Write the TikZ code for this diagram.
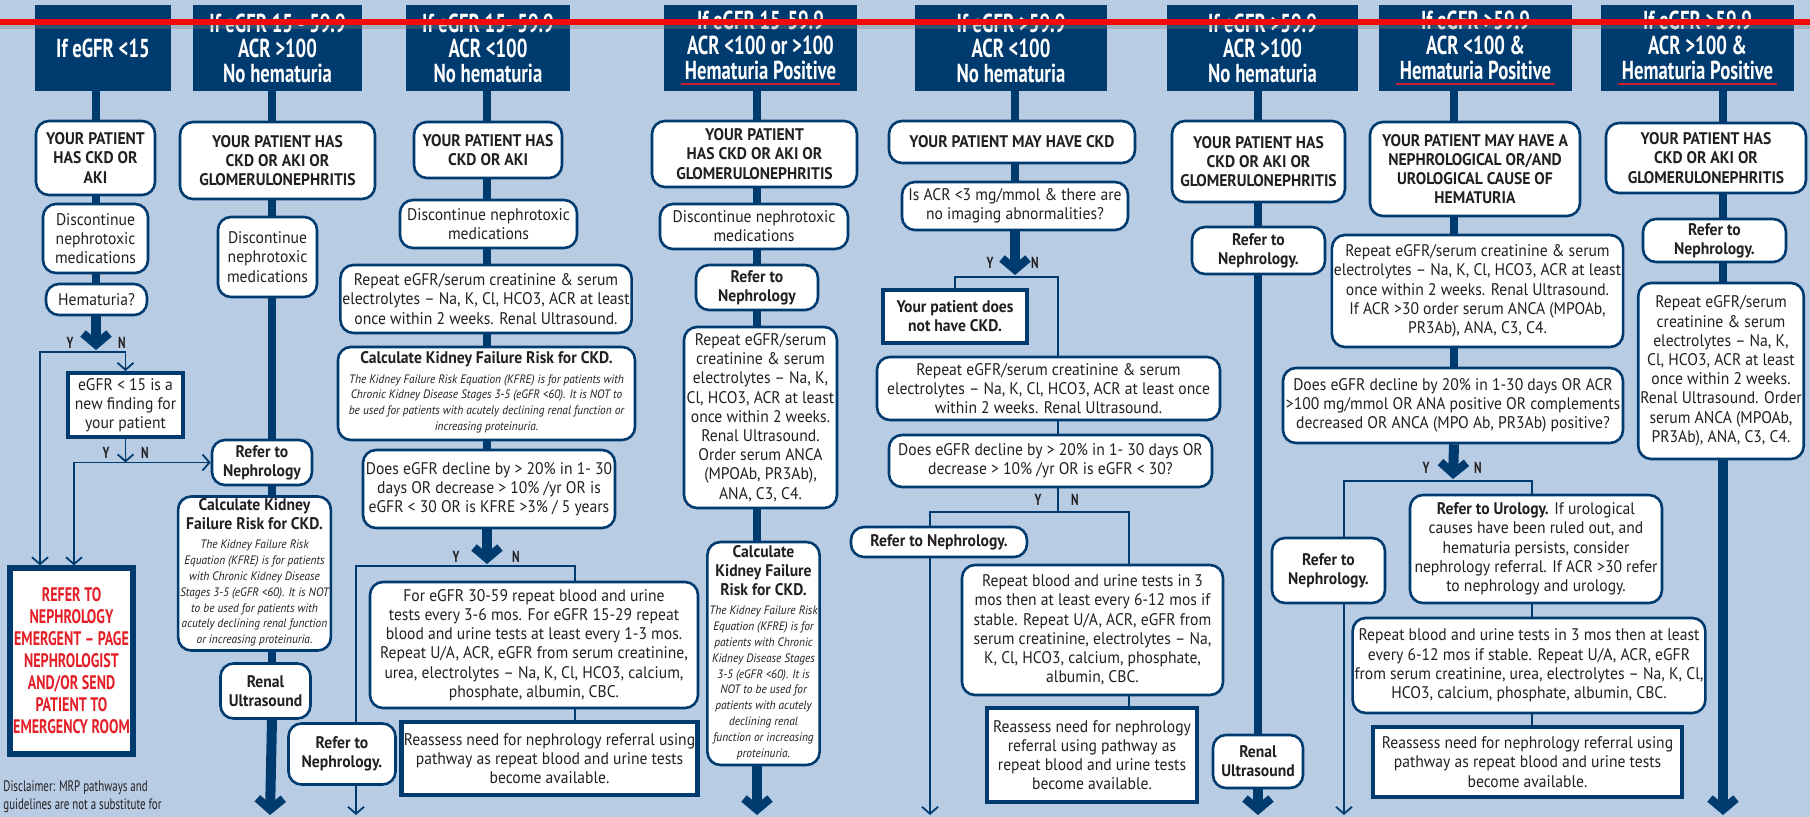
\documentclass[tikz,border=0pt]{standalone}
\usepackage{fontspec}
\setmainfont[FakeStretch=0.93]{PT Sans}
\newfontfamily\condfont[FakeStretch=0.72,Ligatures=TeX]{PT Sans}
\usetikzlibrary{arrows.meta}

\definecolor{navy}{RGB}{0,59,112}
\definecolor{bg}{RGB}{184,204,228}
\definecolor{alert}{RGB}{228,30,38}
\definecolor{ulred}{RGB}{200,30,45}
\definecolor{txt}{RGB}{35,31,32}
\definecolor{topred}{RGB}{240,10,10}

\newcommand\bodyfont{\fontsize{8.4}{9.6}\selectfont}
\newcommand\kfrefont{\fontsize{6.1}{7.9}\selectfont\itshape}
\newcommand\headfont{\condfont\bfseries\fontsize{13}{12.5}\selectfont}
\newcommand\alertfont{\condfont\bfseries\fontsize{9.8}{11}\selectfont}
\newcommand\ynfont{\condfont\bfseries\fontsize{8}{8}\selectfont}
\newcommand\notefont{\condfont\fontsize{7.6}{9}\selectfont}
% red rule under the hematuria headers
\newcommand\redul[1]{\setbox0\hbox{#1}\dimen0=\wd0\advance\dimen0 by 4pt
  \hbox{\kern-2pt\rlap{\color{ulred}\rule[-2.8pt]{\dimen0}{1.1pt}}\kern2pt\box0}}
% small italic KFRE note
\newcommand\kfre[1]{{\kfrefont\begin{tabular}[t]{@{}c@{}}#1\end{tabular}}}

\begin{document}
\begin{tikzpicture}[x=0.5pt,y=-0.5pt,
  head/.style={fill=navy,text=white,font=\headfont,align=center,inner sep=0pt,minimum height=43pt},
  box/.style={draw=navy,line width=1.3pt,fill=white,rounded corners=6.5pt,align=center,inner sep=1pt,text=txt,font=\bodyfont},
  boldbox/.style={box,font=\bodyfont\bfseries},
  sqbox/.style={box,rounded corners=0pt,line width=2.4pt},
  alertbox/.style={sqbox,line width=2.6pt,text=alert,font=\alertfont},
  stem/.style={navy,line width=4.3pt},
  link/.style={navy,line width=0.9pt},
  linkarrow/.style={link,-{Straight Barb[length=3.5pt,width=8pt]}},
  bigarrow/.style={navy,line width=5pt,-{Straight Barb[length=5.5pt,width=13pt,line width=4.2pt]}},
  yn/.style={font=\ynfont,text=txt,inner sep=0pt}]
\useasboundingbox (0,0) rectangle (1810,817);
\fill[bg] (0,0) rectangle (1810,817);

% column headers
\node[head,minimum width=68pt] (h1) at (103,48) {If eGFR <15};
\node[head,minimum width=84.5pt] (h2) at (277.5,48) {If eGFR 15 - 59.9\\ACR >100\\No hematuria};
\node[head,minimum width=82pt] (h3) at (488,48) {If eGFR 15- 59.9\\ACR <100\\No hematuria};
\node[head,minimum width=96.5pt] (h4) at (760.5,48) {If eGFR 15-59.9\\ACR <100 or >100\\\redul{Hematuria Positive}};
\node[head,minimum width=96pt] (h5) at (1011,48) {If eGFR >59.9\\ACR <100\\No hematuria};
\node[head,minimum width=95.5pt] (h6) at (1262.5,48) {If eGFR >59.9\\ACR >100\\No hematuria};
\node[head,minimum width=96.5pt] (h7) at (1475.5,48) {If eGFR >59.9\\ACR <100 \&\\\redul{Hematuria Positive}};
\node[head,minimum width=96.5pt] (h8) at (1697.5,48) {If eGFR >59.9\\ACR >100 \&\\\redul{Hematuria Positive}};

% stem lines of the columns
\coordinate (k1) at (96,0);
\coordinate (k2) at (272,0);
\coordinate (k3) at (487,0);
\coordinate (k4) at (757,0);
\coordinate (k5) at (1015,0);
\coordinate (k6) at (1258,0);
\coordinate (k7) at (1454,0);
\coordinate (k8) at (1723,0);

% eGFR < 15
\node[boldbox,minimum width=59.5pt,minimum height=37pt] (c1a) at (95.5,158) {YOUR PATIENT\\HAS CKD OR\\AKI};
\node[box,minimum width=52.5pt,minimum height=34.5pt] (c1b) at (95.5,238.5) {Discontinue\\nephrotoxic\\medications};
\node[box,minimum width=50.5pt,minimum height=15.5pt] (c1c) at (96.5,299.5) {Hematuria?};
\node[sqbox,line width=2pt,minimum width=57.5pt,minimum height=32pt] (c1d) at (125.5,405) {eGFR < 15 is a\\new finding for\\your patient};
\node[alertbox,minimum width=61.5pt,minimum height=93pt] (c1r) at (71.5,661) {REFER TO\\NEPHROLOGY\\EMERGENT -- PAGE\\NEPHROLOGIST\\AND/OR SEND\\PATIENT TO\\EMERGENCY ROOM};
\node[font=\notefont,text=txt,align=left,anchor=west,inner sep=0pt] (note) at (3,797) {Disclaimer: MRP pathways and\\guidelines are not a substitute for};

% eGFR 15-59.9, ACR >100
\node[boldbox,minimum width=97.5pt,minimum height=38.5pt] (c2a) at (277.5,160.5) {YOUR PATIENT HAS\\CKD OR AKI OR\\GLOMERULONEPHRITIS};
\node[box,minimum width=49.5pt,minimum height=40pt] (c2b) at (267.5,257) {Discontinue\\nephrotoxic\\medications};
\node[boldbox,minimum width=50pt,minimum height=22.5pt] (c2c) at (262,462.5) {Refer to\\Nephrology};
\node[box,minimum width=59pt,minimum height=76.5pt] (c2d) at (254.5,573.5) {\textbf{Calculate Kidney}\\\textbf{Failure Risk for CKD.}\\\kfre{The Kidney Failure Risk\\Equation (KFRE) is for patients\\with Chronic Kidney Disease\\Stages 3-5 (eGFR <60). It is NOT\\to be used for patients with\\acutely declining renal function\\or increasing proteinuria.}};
\node[boldbox,minimum width=45pt,minimum height=27.5pt] (c2e) at (265.5,691) {Renal\\Ultrasound};

% eGFR 15-59.9, ACR <100
\node[boldbox,minimum width=74pt,minimum height=28pt] (c3a) at (488,150) {YOUR PATIENT HAS\\CKD OR AKI};
\node[box,minimum width=88.5pt,minimum height=24pt] (c3b) at (488.5,224) {Discontinue nephrotoxic\\medications};
\node[box,minimum width=143pt,minimum height=34pt] (c3c) at (486,299) {Repeat eGFR/serum creatinine \& serum\\electrolytes -- Na, K, Cl, HCO3, ACR at least\\once within 2 weeks. Renal Ultrasound.};
\node[box,minimum width=148.5pt,minimum height=46.5pt] (c3d) at (486.5,393.5) {\textbf{Calculate Kidney Failure Risk for CKD.}\\\kfre{The Kidney Failure Risk Equation (KFRE) is for patients with\\Chronic Kidney Disease Stages 3-5 (eGFR <60). It is NOT to\\be used for patients with acutely declining renal function or\\increasing proteinuria.}};
\node[box,minimum width=126pt,minimum height=39pt] (c3e) at (489,489) {Does eGFR decline by > 20\% in 1- 30\\days OR decrease > 10\% /yr OR is\\eGFR < 30 OR is KFRE >3\% / 5 years};
\node[box,minimum width=164pt,minimum height=63pt] (c3f) at (534,645) {For eGFR 30-59 repeat blood and urine\\tests every 3-6 mos. For eGFR 15-29 repeat\\blood and urine tests at least every 1-3 mos.\\Repeat U/A, ACR, eGFR from serum creatinine,\\urea, electrolytes -- Na, K, Cl, HCO3, calcium,\\phosphate, albumin, CBC.};
\node[sqbox,minimum width=147.5pt,minimum height=36.5pt] (c3g) at (549.5,758.5) {Reassess need for nephrology referral using\\pathway as repeat blood and urine tests\\become available.};
\node[boldbox,minimum width=53.5pt,minimum height=30.5pt] (c3h) at (342,754) {Refer to\\Nephrology.};

% eGFR 15-59.9, hematuria
\node[boldbox,minimum width=102.5pt,minimum height=33pt] (c4a) at (754.5,154) {YOUR PATIENT\\HAS CKD OR AKI OR\\GLOMERULONEPHRITIS};
\node[box,minimum width=94pt,minimum height=22.5pt] (c4b) at (754,226.5) {Discontinue nephrotoxic\\medications};
\node[boldbox,minimum width=61pt,minimum height=22.5pt] (c4c) at (757,287.5) {Refer to\\Nephrology};
\node[box,minimum width=76.5pt,minimum height=90.5pt] (c4d) at (760.5,417.5) {Repeat eGFR/serum\\creatinine \& serum\\electrolytes -- Na, K,\\Cl, HCO3, ACR at least\\once within 2 weeks.\\Renal Ultrasound.\\Order serum ANCA\\(MPOAb, PR3Ab),\\ANA, C3, C4.};
\node[box,minimum width=55.5pt,minimum height=111.5pt] (c4e) at (763.5,653.5) {\textbf{Calculate}\\\textbf{Kidney Failure}\\\textbf{Risk for CKD.}\\\kfre{The Kidney Failure Risk\\Equation (KFRE) is for\\patients with Chronic\\Kidney Disease Stages\\3-5 (eGFR <60). It is\\NOT to be used for\\patients with acutely\\declining renal\\function or increasing\\proteinuria.}};

% eGFR >59.9, ACR <100
\node[boldbox,minimum width=123pt,minimum height=21pt] (c5a) at (1012,142) {YOUR PATIENT MAY HAVE CKD};
\node[box,minimum width=113pt,minimum height=24pt] (c5b) at (1015,206) {Is ACR <3 mg/mmol \& there are\\no imaging abnormalities?};
\node[sqbox,font=\bodyfont\bfseries,line width=2pt,minimum width=72pt,minimum height=26.5pt] (c5c) at (955,316.5) {Your patient does\\not have CKD.};
\node[box,minimum width=171.5pt,minimum height=31.5pt] (c5d) at (1048.5,388.5) {Repeat eGFR/serum creatinine \& serum\\electrolytes -- Na, K, Cl, HCO3, ACR at least once\\within 2 weeks. Renal Ultrasound.};
\node[box,minimum width=161.5pt,minimum height=26pt] (c5e) at (1050.5,461) {Does eGFR decline by > 20\% in 1- 30 days OR\\decrease > 10\% /yr OR is eGFR < 30?};
\node[boldbox,minimum width=88pt,minimum height=15pt] (c5f) at (939,542) {Refer to Nephrology.};
\node[box,minimum width=130.5pt,minimum height=65pt] (c5g) at (1092.5,630) {Repeat blood and urine tests in 3\\mos then at least every 6-12 mos if\\stable. Repeat U/A, ACR, eGFR from\\serum creatinine, electrolytes -- Na,\\K, Cl, HCO3, calcium, phosphate,\\albumin, CBC.};
\node[sqbox,minimum width=105pt,minimum height=47pt] (c5h) at (1092,755) {Reassess need for nephrology\\referral using pathway as\\repeat blood and urine tests\\become available.};

% eGFR >59.9, ACR >100
\node[boldbox,minimum width=86.5pt,minimum height=40.5pt] (c6a) at (1258.5,161.5) {YOUR PATIENT HAS\\CKD OR AKI OR\\GLOMERULONEPHRITIS};
\node[boldbox,minimum width=66.5pt,minimum height=23.5pt] (c6b) at (1258.5,250.5) {Refer to\\Nephrology.};
\node[boldbox,minimum width=45pt,minimum height=26.5pt] (c6c) at (1258,761.5) {Renal\\Ultrasound};

% eGFR >59.9, ACR <100, hematuria
\node[boldbox,minimum width=105pt,minimum height=47pt] (c7a) at (1475,169) {YOUR PATIENT MAY HAVE A\\NEPHROLOGICAL OR/AND\\UROLOGICAL CAUSE OF\\HEMATURIA};
\node[box,minimum width=140.5pt,minimum height=56pt] (c7b) at (1477.5,291) {Repeat eGFR/serum creatinine \& serum\\electrolytes -- Na, K, Cl, HCO3, ACR at least\\once within 2 weeks. Renal Ultrasound.\\If ACR >30 order serum ANCA (MPOAb,\\PR3Ab), ANA, C3, C4.};
\node[box,minimum width=170pt,minimum height=37.5pt] (c7c) at (1453,405.5) {Does eGFR decline by 20\% in 1-30 days OR ACR\\>100 mg/mmol OR ANA positive OR complements\\decreased OR ANCA (MPO Ab, PR3Ab) positive?};
\node[boldbox,minimum width=56.5pt,minimum height=32.5pt] (c7d) at (1328.5,570.5) {Refer to\\Nephrology.};
\node[box,minimum width=126pt,minimum height=54pt] (c7e) at (1536,549) {\textbf{Refer to Urology.} If urological\\causes have been ruled out, and\\hematuria persists, consider\\nephrology referral. If ACR >30 refer\\to nephrology and urology.};
\node[box,minimum width=175pt,minimum height=47.5pt] (c7f) at (1529,665.5) {Repeat blood and urine tests in 3 mos then at least\\every 6-12 mos if stable. Repeat U/A, ACR, eGFR\\from serum creatinine, urea, electrolytes -- Na, K, Cl,\\HCO3, calcium, phosphate, albumin, CBC.};
\node[sqbox,minimum width=154.5pt,minimum height=35pt] (c7g) at (1527.5,762) {Reassess need for nephrology referral using\\pathway as repeat blood and urine tests\\become available.};

% eGFR >59.9, ACR >100, hematuria
\node[boldbox,minimum width=100pt,minimum height=35pt] (c8a) at (1706,158) {YOUR PATIENT HAS\\CKD OR AKI OR\\GLOMERULONEPHRITIS};
\node[boldbox,minimum width=71.5pt,minimum height=21.5pt] (c8b) at (1714.5,240.5) {Refer to\\Nephrology.};
\node[box,minimum width=82pt,minimum height=88pt] (c8c) at (1721,371) {Repeat eGFR/serum\\creatinine \& serum\\electrolytes -- Na, K,\\Cl, HCO3, ACR at least\\once within 2 weeks.\\Renal Ultrasound. Order\\serum ANCA (MPOAb,\\PR3Ab), ANA, C3, C4.};

\foreach \a/\b/\k in {h1/c1a/k1,c1a/c1b/k1,c1b/c1c/k1,
    h2/c2a/k2,c2a/c2b/k2,c2b/c2c/k2,c2c/c2d/k2,c2d/c2e/k2,
    h3/c3a/k3,c3a/c3b/k3,c3b/c3c/k3,c3c/c3d/k3,c3d/c3e/k3,
    h4/c4a/k4,c4a/c4b/k4,c4b/c4c/k4,c4c/c4d/k4,c4d/c4e/k4,
    h5/c5a/k5,c5a/c5b/k5,
    h6/c6a/k6,c6a/c6b/k6,c6b/c6c/k6,
    h7/c7a/k7,c7a/c7b/k7,c7b/c7c/k7,
    h8/c8a/k8,c8a/c8b/k8,c8b/c8c/k8}
  \draw[stem] (\a.south -| \k) -- (\b.north -| \k);

% branch points and free ends
\coordinate (s1) at (96,352);
\coordinate (s2) at (125.5,462.5);
\coordinate (s3) at (487,566);
\coordinate (s5) at (1015,277);
\coordinate (s5b) at (1058,512);
\coordinate (s7) at (1453,481);
\coordinate (q1) at (40,0);
\coordinate (q2) at (74,0);
\coordinate (l3) at (356,0);
\coordinate (r3) at (575,0);
\coordinate (l5) at (930,0);
\coordinate (r5) at (1058,0);
\coordinate (r5b) at (1129,0);
\coordinate (l7) at (1344,0);
\coordinate (r7) at (1532,0);
\coordinate (e2) at (270,815);
\coordinate (e3) at (356,815);
\coordinate (e4) at (757,815);
\coordinate (e5) at (930,815);
\coordinate (e6) at (1258,815);
\coordinate (e7) at (1344,815);
\coordinate (e8) at (1723,815);

\draw[bigarrow] (c1c.south -| k1) -- ([yshift=1pt]s1);
\draw[bigarrow] (c2e.south -| k2) -- (e2);
\draw[bigarrow] (c3e.south -| k3) -- ([yshift=1pt]s3);
\draw[bigarrow] (c4e.south -| k4) -- (e4);
\draw[bigarrow] (c5b.south -| k5) -- ([yshift=1pt]s5);
\draw[bigarrow] (c6c.south -| k6) -- (e6);
\draw[bigarrow] (c7c.south -| k7) -- ([yshift=1pt]s7);
\draw[bigarrow] (c8c.south -| k8) -- (e8);

% yes / no branches
\draw[linkarrow] (s1) -| (c1d.north);
\draw[linkarrow] (s1) -| (c1r.north -| q1);
\draw[linkarrow] (c1d.south) -- (s2);
\draw[linkarrow] (s2) -- (c2c.west);
\draw[linkarrow] (s2) -| (c1r.north -| q2);

\draw[link] (s3) -| (c3f.north -| r3);
\draw[link] (c3f.south -| r3) -- (c3g.north -| r3);
\draw[link] (s3) -| (c3h.north -| l3);
\draw[linkarrow] (c3h.south -| l3) -- (e3);

\draw[link] (s5) -| (c5c.north);
\draw[link] (s5) -| (c5d.north -| r5);
\draw[link] (c5d.south -| r5) -- (c5e.north -| r5);
\draw[link] (c5e.south -| r5) -- (s5b);
\draw[link] (s5b) -| (c5f.north -| l5);
\draw[link] (s5b) -| (c5g.north -| r5b);
\draw[link] (c5g.south -| r5b) -- (c5h.north -| r5b);
\draw[linkarrow] (c5f.south -| l5) -- (e5);

\draw[link] (s7) -| (c7d.north -| l7);
\draw[link] (s7) -| (c7e.north -| r7);
\draw[link] (c7e.south -| r7) -- (c7f.north -| r7);
\draw[link] (c7f.south -| r7) -- (c7g.north -| r7);
\draw[linkarrow] (c7d.south -| l7) -- (e7);

\node[yn] (y1) at (70,343) {Y};
\node[yn] (n1) at (122,343) {N};
\node[yn] (y1b) at (106,453) {Y};
\node[yn] (n1b) at (145,453) {N};
\node[yn] (y3) at (456,557) {Y};
\node[yn] (n3) at (516,557) {N};
\node[yn] (y5) at (990,263) {Y};
\node[yn] (n5) at (1035,263) {N};
\node[yn] (y5b) at (1038,500) {Y};
\node[yn] (n5b) at (1075,500) {N};
\node[yn] (y7) at (1426,468) {Y};
\node[yn] (n7) at (1478,468) {N};

% red rule across the top
\draw[gray,opacity=0.35,line width=2pt] (0,27) -- (1810,27);
\draw[topred,line width=2.6pt] (0,22) -- (1810,22);
\end{tikzpicture}
\end{document}
